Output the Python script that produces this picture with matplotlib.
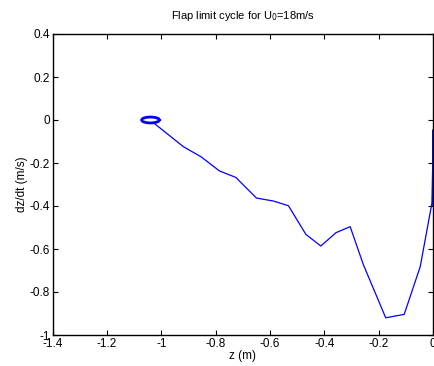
import numpy as np
import matplotlib
matplotlib.use('Agg')
import matplotlib.pyplot as plt
from matplotlib.ticker import FormatStrFormatter

plt.rcParams['font.family'] = ['Liberation Sans', 'DejaVu Sans']
plt.rcParams['axes.unicode_minus'] = False

# trajectory (z, dz/dt)
z_path = [0.0, -0.001, -0.004, -0.047, -0.106, -0.174, -0.256, -0.305, -0.357,
          -0.413, -0.468, -0.532, -0.587, -0.650, -0.726, -0.786, -0.854,
          -0.919, -1.023]
dz_path = [-0.045, -0.200, -0.387, -0.682, -0.904, -0.920, -0.674, -0.496, -0.524,
           -0.586, -0.532, -0.399, -0.377, -0.363, -0.267, -0.237, -0.171,
           -0.124, -0.019]

# limit cycle loop
z_cycle = [-1.007, -1.011, -1.023, -1.040, -1.057, -1.069, -1.073, -1.069,
           -1.057, -1.040, -1.023, -1.011, -1.007]
dz_cycle = [0.000, 0.007, 0.012, 0.014, 0.012, 0.007, 0.000, -0.007,
            -0.012, -0.014, -0.012, -0.007, 0.000]

xticks = [-1.4, -1.2, -1, -0.8, -0.6, -0.4, -0.2, 0]
yticks = [0.4, 0.2, 0, -0.2, -0.4, -0.6, -0.8, -1]

fig = plt.figure(figsize=(4.35, 3.66), dpi=100)
ax = fig.add_axes([52.7 / 435, 1 - 335 / 366, (433 - 52.7) / 435, (335 - 34) / 366])

ax.plot(z_path, dz_path, color='#0000ff', lw=0.9)
ax.plot(z_cycle, dz_cycle, color='#0000ff', lw=2.0)
ax.plot([0.0, 0.0], [-0.05, -0.39], color='#0000ff', lw=2.0)

ax.set_xlim(-1.4, 0)
ax.set_ylim(-1, 0.4)
ax.set_xticks(xticks)
ax.set_yticks(yticks)
ax.xaxis.set_major_formatter(FormatStrFormatter('%g'))
ax.yaxis.set_major_formatter(FormatStrFormatter('%g'))
ax.tick_params(direction='in', length=3.5, width=0.8, labelsize=8.5,
               top=True, right=True, pad=2)
for s in ax.spines.values():
    s.set_linewidth(1.0)

ax.set_title('Flap limit cycle for U$_0$=18m/s', fontsize=8, pad=11)
ax.set_xlabel('z (m)', fontsize=8.5, labelpad=0)
ax.set_ylabel('dz/dt (m/s)', fontsize=8.5, labelpad=1)

fig.savefig('out.png', dpi=100)
